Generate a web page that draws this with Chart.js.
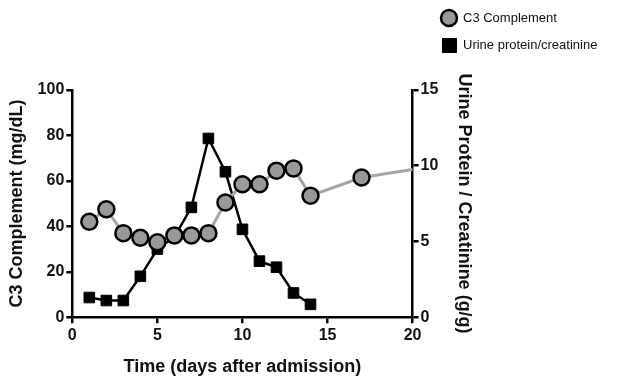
<!DOCTYPE html>
<html lang="en">
<head>
  <meta charset="UTF-8">
  <title>C3 Complement and Urine Protein/Creatinine</title>
  <script src="https://cdn.jsdelivr.net/npm/chart.js"></script>
  <style>
    html, body { margin: 0; padding: 0; background: #fff; }
    #wrap { width: 638px; height: 378px; }
  </style>
</head>
<body>
  <div id="wrap"><canvas id="chart" width="638" height="378"></canvas></div>
  <script>
    // values
    const c3Days = [1, 2, 3, 4, 5, 6, 7, 8, 9, 10, 11, 12, 13, 14, 17, 20];
    const c3Values = [42, 47.5, 37, 35, 33, 36, 36, 37, 50.5, 58.5, 58.5, 64.5, 65.5, 53.5, 61.5, 65];
    const upcDays = [1, 2, 3, 4, 5, 6, 7, 8, 9, 10, 11, 12, 13, 14];
    const upcValues = [1.3, 1.1, 1.1, 2.7, 4.5, 5.3, 7.25, 11.8, 9.6, 5.8, 3.7, 3.3, 1.6, 0.85];
    const xTicks = [0, 5, 10, 15, 20];
    const leftTicks = [0, 20, 40, 60, 80, 100];
    const rightTicks = [0, 5, 10, 15];

    const font = 'Liberation Sans, Arial, sans-serif';

    const c3Points = c3Days.map((d, i) => ({ x: d, y: c3Values[i] }));
    const upcPoints = upcDays.map((d, i) => ({ x: d, y: upcValues[i] }));
    // last C3 point continues off the plot, so no marker at the edge
    const c3Radius = c3Days.map(d => d >= 20 ? 0 : 8);

    const legendBox = {
      id: 'legendBox',
      afterDraw(chart) {
        const ctx = chart.ctx;
        const ds = chart.data.datasets;
        ctx.save();
        ctx.font = '13px ' + font;
        ctx.textBaseline = 'middle';
        // C3 marker
        ctx.beginPath();
        ctx.arc(449, 18, 8, 0, Math.PI * 2);
        ctx.fillStyle = ds[0].pointBackgroundColor;
        ctx.fill();
        ctx.lineWidth = 2.5;
        ctx.strokeStyle = '#000';
        ctx.stroke();
        ctx.fillStyle = '#111';
        ctx.fillText(ds[0].label, 463, 18);
        // urine marker
        ctx.fillStyle = '#000';
        ctx.fillRect(442, 38, 15, 15);
        ctx.fillStyle = '#111';
        ctx.fillText(ds[1].label, 463, 45);
        ctx.restore();
      }
    };

    const tickFont = { family: font, size: 16, weight: 'bold' };
    const titleFont = { family: font, size: 18, weight: 'bold' };

    new Chart(document.getElementById('chart'), {
      type: 'line',
      data: {
        datasets: [
          {
            label: 'C3 Complement',
            data: c3Points,
            yAxisID: 'y',
            borderColor: '#a6a6a6',
            borderWidth: 3,
            pointBackgroundColor: '#999999',
            pointBorderColor: '#000',
            pointBorderWidth: 2.5,
            pointRadius: c3Radius,
            pointStyle: 'circle',
            tension: 0
          },
          {
            label: 'Urine protein/creatinine',
            data: upcPoints,
            yAxisID: 'y2',
            borderColor: '#000',
            borderWidth: 2.5,
            pointBackgroundColor: '#000',
            pointBorderColor: '#000',
            pointBorderWidth: 1,
            pointRadius: 7.5,
            pointStyle: 'rect',
            tension: 0
          }
        ]
      },
      options: {
        responsive: false,
        animation: false,
        layout: { padding: { left: 6, right: 163, top: 90, bottom: 0 } },
        plugins: {
          legend: { display: false },
          tooltip: { enabled: false }
        },
        scales: {
          x: {
            type: 'linear',
            min: 0, max: 20,
            afterBuildTicks: s => { s.ticks = xTicks.map(v => ({ value: v })); },
            border: { display: true, color: '#000', width: 2.5 },
            grid: { drawOnChartArea: false, color: '#000', lineWidth: 2.5, tickLength: 6 },
            ticks: { color: '#111', font: tickFont, padding: 3 },
            title: { display: true, text: 'Time (days after admission)', color: '#111', font: titleFont, padding: { top: 8, bottom: 0 } }
          },
          y: {
            position: 'left',
            min: 0, max: 100,
            afterBuildTicks: s => { s.ticks = leftTicks.map(v => ({ value: v })); },
            border: { display: true, color: '#000', width: 2.5 },
            grid: { drawOnChartArea: false, color: '#000', lineWidth: 2.5, tickLength: 6 },
            ticks: { color: '#111', font: tickFont, padding: 2 },
            title: { display: true, text: 'C3 Complement (mg/dL)', color: '#111', font: titleFont, padding: { top: 0, bottom: 8 } }
          },
          y2: {
            position: 'right',
            min: 0, max: 15,
            afterBuildTicks: s => { s.ticks = rightTicks.map(v => ({ value: v })); },
            border: { display: true, color: '#000', width: 2.5 },
            grid: { drawOnChartArea: false, color: '#000', lineWidth: 2.5, tickLength: 6 },
            ticks: { color: '#111', font: tickFont, padding: 2 },
            title: { display: true, text: 'Urine Protein / Creatinine (g/g)', color: '#111', font: titleFont, padding: { top: 0, bottom: 13 } }
          }
        }
      },
      plugins: [legendBox]
    });
  </script>
</body>
</html>
